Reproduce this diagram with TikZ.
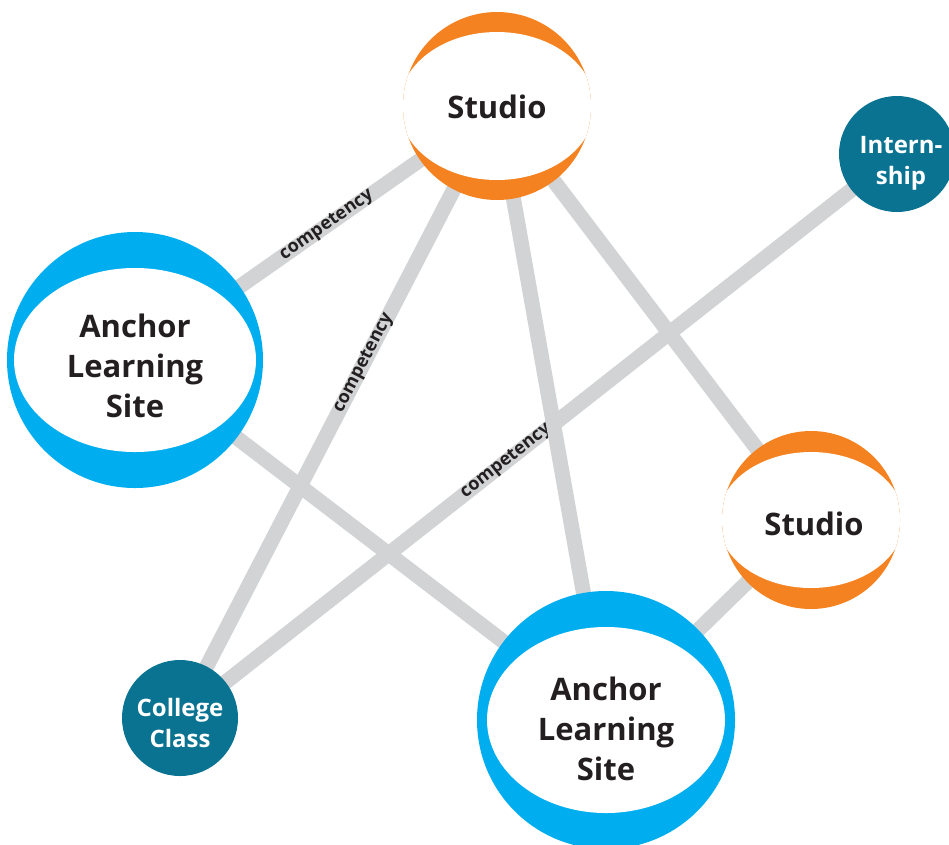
\documentclass[tikz,border=0pt]{standalone}
\usepackage{fontspec}
\setmainfont{Open Sans}
\usetikzlibrary{backgrounds}
\definecolor{orng}{RGB}{245,130,32}
\definecolor{cyanb}{RGB}{0,174,239}
\definecolor{tealc}{RGB}{9,115,145}
\definecolor{edgegray}{RGB}{209,211,212}
\definecolor{txt}{RGB}{35,31,32}
\tikzset{
  studiobox/.style n args={3}{circle, inner sep=0pt, minimum size=#1, fill=orng,
    path picture={\fill[white] (path picture bounding box.center) ellipse [x radius=#2, y radius=#3];}},
  anchorbox/.style n args={3}{circle, inner sep=0pt, minimum size=#1, fill=cyanb,
    path picture={\fill[white] (path picture bounding box.center) ellipse [x radius=#2, y radius=#3];}},
  smallbox/.style={circle, inner sep=0pt, minimum size=116pt, fill=tealc},
  bigtext/.style={inner sep=0pt, text=txt, align=center, font=\fontsize{31}{40}\selectfont\bfseries},
  smalltext/.style={inner sep=0pt, text=white, align=center, font=\fontsize{24}{31}\selectfont\bfseries},
  edge/.style={draw=edgegray, line width=15pt},
  lab/.style={sloped, inner sep=1pt, text=txt, font=\fontsize{18}{20}\selectfont\bfseries}
}
\begin{document}
\begin{tikzpicture}[x=1pt, y=-1pt]
\useasboundingbox (0,0) rectangle (949,844);
\clip (0,0) rectangle (949,844);
\node[studiobox={188pt}{98pt}{74pt}] (s1) at (497,106) {};
\node[studiobox={178pt}{93pt}{68pt}] (s2) at (811,520) {};
\node[anchorbox={256pt}{121pt}{92pt}] (a1) at (135,360) {};
\node[anchorbox={258pt}{119pt}{93pt}] (a2) at (606,720) {};
\node[smallbox] (cc) at (180,718) {};
\node[smallbox] (in) at (897,154) {};
\node[bigtext] (s1t) at ([yshift=-1pt]s1.center) {Studio};
\node[bigtext] (s2t) at ([xshift=3pt,yshift=-4pt]s2.center) {Studio};
\node[bigtext] (a1t) at ([yshift=-6pt]a1.center) {Anchor\\Learning\\Site};
\node[bigtext] (a2t) at ([yshift=-9pt]a2.center) {Anchor\\Learning\\Site};
\node[smalltext] (cct) at ([yshift=-5pt]cc.center) {College\\Class};
\node[smalltext] (int) at ([xshift=4pt,yshift=-9pt]in.center) {Intern-\\ship};
\begin{pgfonlayer}{background}
\draw[edge] (s1.center) -- node[lab, pos=0.47] {competency} (a1.center);
\draw[edge] (s1.center) -- node[lab, pos=0.42] {competency} (cc.center);
\draw[edge] (in.center) -- node[lab, pos=0.545] {competency} (cc.center);
\draw[edge] (s1.center) -- (a2.center);
\draw[edge] (s1.center) -- (s2.center);
\draw[edge] (a1.center) -- (a2.center);
\draw[edge] (s2.center) -- (a2.center);
\end{pgfonlayer}
\end{tikzpicture}
\end{document}
